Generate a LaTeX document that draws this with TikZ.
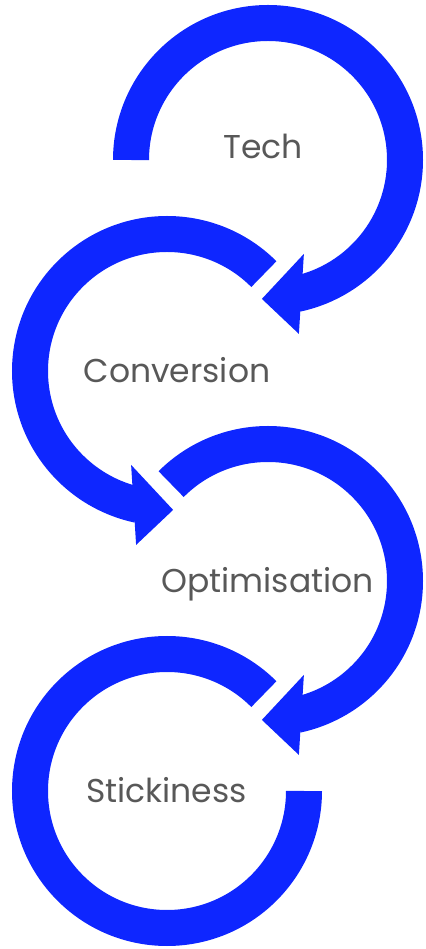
\documentclass[tikz,border=0pt]{standalone}
\usepackage{fontspec}
\setmainfont{Poppins}
\usepackage[]{tikz}
\usetikzlibrary{calc}
\definecolor{ringblue}{RGB}{14,38,255}
\definecolor{labelgrey}{RGB}{88,88,88}
\tikzset{ring/.style={line width=18pt,ringblue}}
\tikzset{stage/.style={font=\fontsize{16.5}{20}\selectfont,text=labelgrey,anchor=base,inner sep=0pt}}
% filled head at the end of a ring: centre, angle on the ring, 1 or -1 for its side
\newcommand{\ringhead}[3]{\fill[ringblue,shift={($(#1)+(#2:138)$)},xscale=#3] (2.5,40) -- (-39.5,-5) -- (-2.5,-40) -- cycle;}

\begin{document}
\begin{tikzpicture}[x=0.5pt,y=0.5pt]
            \useasboundingbox (0,0) rectangle (426,949);
            \coordinate (c1) at (268,789);
            \coordinate (c2) at (167,578);
            \coordinate (c3) at (268,368);
            \coordinate (c4) at (167,158);
            % the four rings
            \draw[ring] ($(c1)+(180:137)$) arc[start angle=180,end angle=-78,radius=137];
            \draw[ring] ($(c2)+(45:137)$) arc[start angle=45,end angle=258,radius=137];
            \draw[ring] ($(c3)+(135:137)$) arc[start angle=135,end angle=-78,radius=137];
            \draw[ring] ($(c4)+(45:137)$) arc[start angle=45,end angle=360,radius=137];
            \ringhead{c1}{-76}{1}
            \ringhead{c2}{256}{-1}
            \ringhead{c3}{-76}{1}
            % stage names
            \node[stage] (tech) at (263,790) {Tech};
            \node[stage] (conversion) at (177,566) {Conversion};
            \node[stage] (optimisation) at (267.5,356) {Optimisation};
            \node[stage] (stickiness) at (166.5,146) {Stickiness};
        \end{tikzpicture}
\end{document}
